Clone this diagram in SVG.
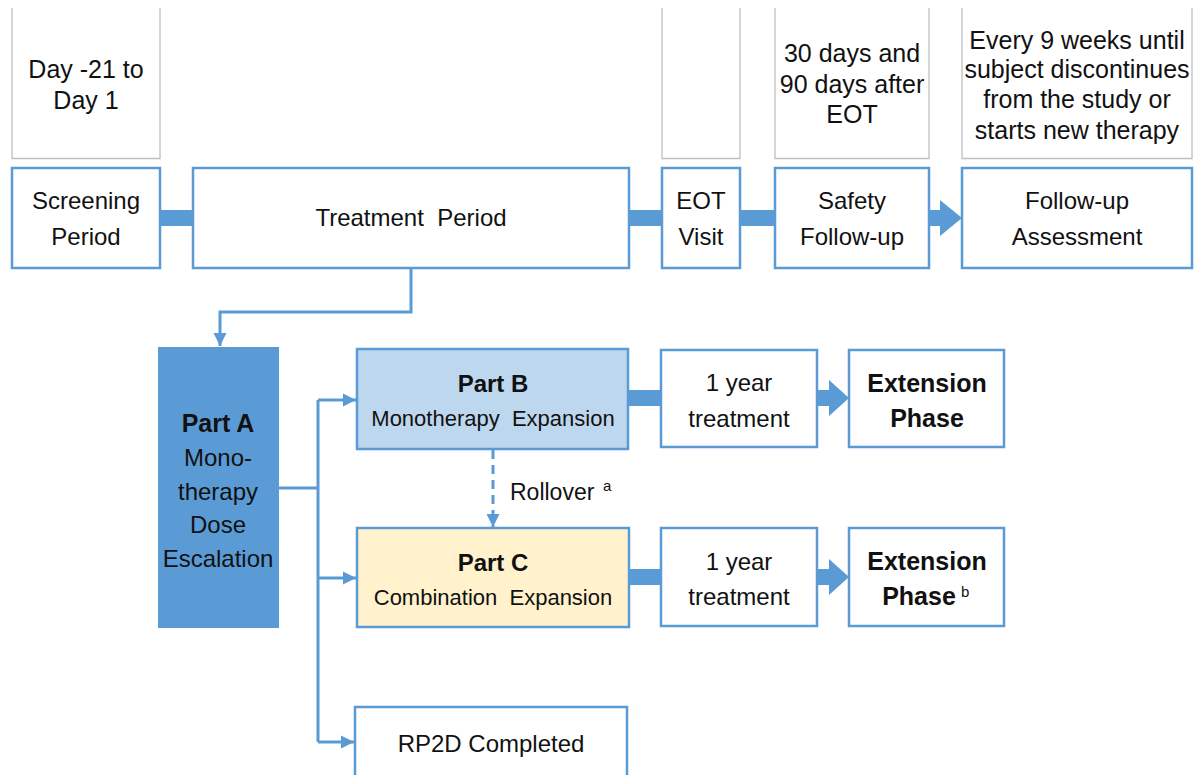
<svg xmlns="http://www.w3.org/2000/svg" width="1196" height="775" viewBox="0 0 1196 775">
  <style>
    .note { fill: none; stroke: #BFBFBF; stroke-width: 1.3; }
    .box { fill: #FFFFFF; stroke: #5B9BD5; stroke-width: 2.5; }
    .t { font-family: "Liberation Sans", Arial, sans-serif; font-size: 24px; fill: #111; text-anchor: middle; }
    .tn { font-family: "Liberation Sans", Arial, sans-serif; font-size: 25px; fill: #111; text-anchor: middle; }
    .tb { font-family: "Liberation Sans", Arial, sans-serif; font-size: 25px; font-weight: bold; fill: #111; text-anchor: middle; }
    .ts { font-family: "Liberation Sans", Arial, sans-serif; font-size: 22px; fill: #111; text-anchor: middle; }
    .sup { font-family: "Liberation Sans", Arial, sans-serif; font-size: 15px; fill: #111; }
    .bar { fill: #5B9BD5; }
    .line { fill: none; stroke: #5B9BD5; stroke-width: 3; }
  </style>
  <defs>
    <marker id="tip" viewBox="0 0 10 10" refX="10" refY="5" markerWidth="4.5" markerHeight="4.5" markerUnits="strokeWidth" orient="auto">
      <path d="M0,0 L10,5 L0,10 z" fill="#5B9BD5"/>
    </marker>
  </defs>

  <rect width="1196" height="775" fill="#FFFFFF"/>

  <!-- timing notes above the timeline -->
  <g id="note-screening">
    <path class="note" d="M12,8 V158.5 H160 V8"/>
    <text class="tn" x="86" y="78">Day -21 to</text>
    <text class="tn" x="86" y="109">Day 1</text>
  </g>
  <g id="note-eot">
    <path class="note" d="M662,8 V158.5 H740 V8"/>
  </g>
  <g id="note-safety">
    <path class="note" d="M775,8 V158.5 H929 V8"/>
    <text class="tn" x="852" y="62">30 days and</text>
    <text class="tn" x="852" y="93">90 days after</text>
    <text class="tn" x="852" y="123">EOT</text>
  </g>
  <g id="note-followup">
    <path class="note" d="M962,8 V158.5 H1192 V8"/>
    <text class="tn" x="1077" y="49">Every 9 weeks until</text>
    <text class="tn" x="1077" y="78">subject discontinues</text>
    <text class="tn" x="1077" y="108">from the study or</text>
    <text class="tn" x="1077" y="139">starts new therapy</text>
  </g>

  <!-- connectors -->
  <g id="connectors">
    <rect class="bar" x="160" y="210" width="33" height="16"/>
    <rect class="bar" x="629" y="210" width="33" height="16"/>
    <rect class="bar" x="740" y="210" width="35" height="16"/>
    <path class="bar" d="M929,210 H940 V200 L962,218 L940,236 V226 H929 z"/>

    <path class="line" d="M411,268 V312 H220 V346" marker-end="url(#tip)"/>

    <path class="line" d="M279,488 H318"/>
    <path class="line" d="M318,400 V742"/>
    <path class="line" d="M318,400 H356" marker-end="url(#tip)"/>
    <path class="line" d="M318,578 H356" marker-end="url(#tip)"/>
    <path class="line" d="M318,742 H354" marker-end="url(#tip)"/>

    <path class="line" d="M493,450 V527" stroke-dasharray="9,6" marker-end="url(#tip)"/>

    <rect class="bar" x="628" y="390" width="33" height="16"/>
    <path class="bar" d="M817,390 H829 V380 L849,398 L829,416 V406 H817 z"/>
    <rect class="bar" x="629" y="569" width="32" height="16"/>
    <path class="bar" d="M817,569 H829 V559 L849,577 L829,595 V585 H817 z"/>
  </g>

  <!-- timeline -->
  <g id="screening">
    <rect class="box" x="12" y="168" width="148" height="100"/>
    <text class="t" x="86" y="209">Screening</text>
    <text class="t" x="86" y="245">Period</text>
  </g>
  <g id="treatment">
    <rect class="box" x="193" y="168" width="436" height="100"/>
    <text class="t" x="411" y="226" xml:space="preserve">Treatment  Period</text>
  </g>
  <g id="eot">
    <rect class="box" x="662" y="168" width="78" height="100"/>
    <text class="t" x="701" y="209">EOT</text>
    <text class="t" x="701" y="245">Visit</text>
  </g>
  <g id="safety">
    <rect class="box" x="775" y="168" width="154" height="100"/>
    <text class="t" x="852" y="209">Safety</text>
    <text class="t" x="852" y="245">Follow-up</text>
  </g>
  <g id="followup">
    <rect class="box" x="962" y="168" width="230" height="100"/>
    <text class="t" x="1077" y="209">Follow-up</text>
    <text class="t" x="1077" y="245">Assessment</text>
  </g>

  <!-- study parts -->
  <g id="part-a">
    <rect x="158" y="347" width="121" height="281" fill="#5B9BD5"/>
    <text class="tb" x="218" y="432">Part A</text>
    <text class="t" x="218" y="466">Mono-</text>
    <text class="t" x="218" y="500">therapy</text>
    <text class="t" x="218" y="533">Dose</text>
    <text class="t" x="218" y="567">Escalation</text>
  </g>
  <g id="part-b">
    <rect class="box" x="357" y="349" width="271" height="100" fill="#BDD7EE" style="fill:#BDD7EE"/>
    <text class="tb" x="493" y="392" style="font-size:24px">Part B</text>
    <text class="ts" x="493" y="426" xml:space="preserve">Monotherapy  Expansion</text>
  </g>
  <g id="rollover">
    <text class="ts" x="510" y="500" style="text-anchor:start;font-size:23px">Rollover</text>
    <text class="sup" x="603" y="491">a</text>
  </g>
  <g id="part-c">
    <rect class="box" x="357" y="528" width="272" height="99" style="fill:#FFF2CC"/>
    <text class="tb" x="493" y="571" style="font-size:24px">Part C</text>
    <text class="ts" x="493" y="605" xml:space="preserve">Combination  Expansion</text>
  </g>
  <g id="rp2d">
    <rect class="box" x="355" y="707" width="272" height="80"/>
    <text class="t" x="491" y="752">RP2D Completed</text>
  </g>

  <g id="year-b">
    <rect class="box" x="661" y="350" width="156" height="97"/>
    <text class="t" x="739" y="391">1 year</text>
    <text class="t" x="739" y="427">treatment</text>
  </g>
  <g id="extension-b">
    <rect class="box" x="849" y="350" width="155" height="97"/>
    <text class="tb" x="927" y="392">Extension</text>
    <text class="tb" x="927" y="427">Phase</text>
  </g>
  <g id="year-c">
    <rect class="box" x="661" y="528" width="156" height="98"/>
    <text class="t" x="739" y="570">1 year</text>
    <text class="t" x="739" y="605">treatment</text>
  </g>
  <g id="extension-c">
    <rect class="box" x="849" y="528" width="155" height="98"/>
    <text class="tb" x="927" y="570">Extension</text>
    <text class="tb" x="919" y="605">Phase</text>
    <text class="sup" x="961" y="597">b</text>
  </g>
</svg>
